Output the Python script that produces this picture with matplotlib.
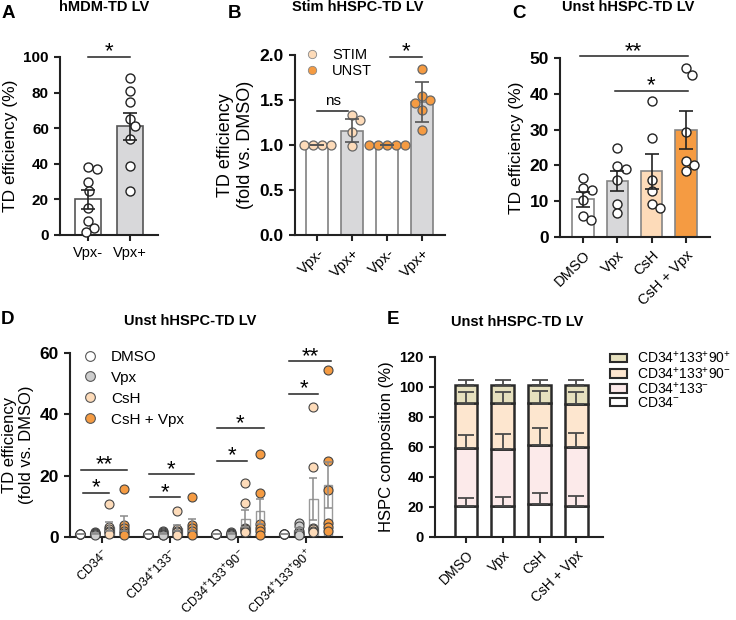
import numpy as np
import matplotlib
matplotlib.use('Agg')
import matplotlib.pyplot as plt
from matplotlib.lines import Line2D
from matplotlib.patches import Patch

plt.rcParams['font.family'] = ['Liberation Sans', 'DejaVu Sans']
plt.rcParams['mathtext.fontset'] = 'custom'
plt.rcParams['mathtext.rm'] = 'Liberation Sans'
plt.rcParams['mathtext.it'] = 'Liberation Sans:italic'
plt.rcParams['mathtext.bf'] = 'Liberation Sans:bold'
plt.rcParams['mathtext.sf'] = 'Liberation Sans'

# colours
WHITE = '#FFFFFF'
GRAY = '#D8D8DA'
PEACH = '#FDDBB9'
ORANGE = '#F59B42'
KHAKI = '#E6E0BE'
LIGHT_PEACH = '#FDE6CF'
PINK = '#FCEAEA'

# ---- panel A data ----
a_labels = ['Vpx-', 'Vpx+']
a_mean = [20.0, 61.0]
a_sem = [5.2, 7.6]
a_vpx_neg = [38, 37, 30, 25, 15, 8, 4, 1.5]
a_vpx_pos = [88, 81, 75, 65, 61, 54, 39, 25]

# ---- panel B data ----
b_labels = ['Vpx-', 'Vpx+', 'Vpx-', 'Vpx+']
b_mean = [1.0, 1.16, 1.0, 1.48]
b_err = [0.0, 0.13, 0.0, 0.22]
b_stim_neg = [1.0, 1.0, 1.0, 1.0]
b_stim_pos = [1.33, 1.28, 1.15, 0.99]
b_unst_neg = [1.0, 1.0, 1.0, 1.0, 1.0]
b_unst_pos = [1.84, 1.54, 1.50, 1.47, 1.39, 1.17]

# ---- panel C data ----
c_labels = ['DMSO', 'Vpx', 'CsH', 'CsH + Vpx']
c_mean = [10.5, 15.7, 18.3, 30.0]
c_sem = [2.0, 2.8, 4.9, 5.3]
c_dmso = [16.5, 13.7, 13.2, 10.4, 6.0, 4.8]
c_vpx = [25.0, 19.9, 19.1, 16.0, 9.3, 6.7]
c_csh = [37.9, 27.6, 16.0, 12.8, 9.3, 8.1]
c_cshvpx = [47.2, 45.3, 29.2, 21.1, 20.0, 18.3]

# ---- panel D data ----
d_groups = ['CD34$^{-}$', 'CD34$^{+}$133$^{-}$',
            'CD34$^{+}$133$^{+}$90$^{-}$', 'CD34$^{+}$133$^{+}$90$^{+}$']
d_conditions = ['DMSO', 'Vpx', 'CsH', 'CsH + Vpx']
d_dmso_pts = [[1, 1, 1, 1, 1, 1]] * 4
d_vpx_pts = [[1.7, 1.4, 1.2, 1.0, 0.9, 0.7],
             [1.8, 1.5, 1.2, 1.0, 0.8, 0.6],
             [1.5, 1.3, 1.1, 1.0, 0.9, 0.7],
             [4.6, 3.5, 2.0, 1.3, 1.0, 0.8]]
d_csh_pts = [[10.8, 3.2, 2.6, 2.0, 1.5, 1.0],
             [8.5, 2.5, 2.0, 1.5, 1.0, 0.8],
             [17.7, 11.1, 3.0, 2.5, 2.0, 1.5],
             [42.3, 22.9, 3.0, 2.5, 2.0, 1.5]]
d_cshvpx_pts = [[15.8, 3.8, 3.0, 1.8, 1.2, 0.8],
                [12.9, 4.0, 3.0, 2.0, 1.0, 0.5],
                [27.2, 14.3, 4.1, 3.0, 2.0, 0.5],
                [54.3, 24.8, 15.4, 4.6, 3.2, 2.0]]
d_mean_dmso = [1.0, 1.0, 1.0, 1.0]
d_mean_vpx = [1.2, 1.2, 1.1, 2.4]
d_mean_csh = [3.3, 2.9, 6.0, 12.3]
d_mean_cshvpx = [4.4, 4.0, 8.4, 16.9]
d_sem_dmso = [0, 0, 0, 0]
d_sem_vpx = [0.2, 0.2, 0.1, 0.6]
d_sem_csh = [1.5, 1.1, 2.9, 6.8]
d_sem_cshvpx = [2.4, 1.9, 4.1, 7.6]
# significance brackets: (x from, x to, y, text) in group units
d_sig = [(-0.28, 0.10, 14.5, '*'), (-0.31, 0.37, 22.0, '**'),
         (0.71, 1.15, 13.0, '*'), (0.69, 1.35, 20.5, '*'),
         (1.69, 2.13, 24.8, '*'), (1.69, 2.38, 35.4, '*'),
         (2.75, 3.18, 46.7, '*'), (2.75, 3.37, 57.3, '**')]

# ---- panel E data ----
e_labels = ['DMSO', 'Vpx', 'CsH', 'CsH + Vpx']
e_cd34neg = [20.4, 21.0, 21.7, 21.0]
e_133neg = [38.7, 37.7, 39.6, 39.2]
e_90neg = [29.9, 30.3, 27.7, 28.4]
e_90pos = [12.2, 12.2, 12.2, 12.6]
e_err_cd34neg = [5.3, 6.0, 7.5, 6.5]
e_err_133neg = [8.6, 10.3, 11.1, 9.3]
e_err_90neg = [7.7, 7.7, 8.4, 8.1]
e_err_90pos = [3.3, 3.3, 3.3, 3.3]
e_legend = ['CD34$^{+}$133$^{+}$90$^{+}$', 'CD34$^{+}$133$^{+}$90$^{-}$',
            'CD34$^{+}$133$^{-}$', 'CD34$^{-}$']

W, H = 736, 620
fig = plt.figure(figsize=(W / 100, H / 100), dpi=100)


def px_axes(left, top, right, bottom):
    return fig.add_axes([left / W, 1 - bottom / H, (right - left) / W, (bottom - top) / H])


def style(ax, ysize=11, xsize=10):
    for s in ['top', 'right']:
        ax.spines[s].set_visible(False)
    for s in ['left', 'bottom']:
        ax.spines[s].set_linewidth(1.5)
        ax.spines[s].set_color('#222')
    ax.tick_params(width=1.5, length=4.5, color='#222')
    ax.tick_params(axis='x', labelsize=xsize)
    ax.tick_params(axis='y', labelsize=ysize)
    for lab in ax.get_yticklabels():
        lab.set_fontweight('bold')


def swarm(ax, x0, vals, diam=9.0, max_off=None):
    # simple beeswarm in pixel space
    tr = ax.transData
    pix = tr.transform(np.column_stack([np.full(len(vals), float(x0)), np.asarray(vals, float)]))
    cx = pix[0, 0]
    placed = []
    xs = []
    for y in pix[:, 1]:
        cands = [0.0]
        for p, q in placed:
            dy = y - q
            if abs(dy) < diam:
                dx = np.sqrt(diam ** 2 - dy ** 2)
                cands += [p + dx, p - dx]
        cands.sort(key=abs)
        best = None
        for c in cands:
            if max_off is not None and abs(c) > max_off + 1e-9:
                continue
            if all((c - p) ** 2 + (y - q) ** 2 >= diam ** 2 - 1e-6 for p, q in placed):
                best = c
                break
        if best is None:
            best = 0.0
        placed.append((best, y))
        xs.append(cx + best)
    xs = np.array(xs)
    # a flat row gets centred on the bar
    if np.ptp(pix[:, 1]) < 1e-6:
        xs = xs - (xs.mean() - cx)
    back = tr.inverted().transform(np.column_stack([xs, pix[:, 1]]))
    return back[:, 0]


def sig(ax, x1, x2, y, text, fs=16, dy=-4):
    ax.plot([x1, x2], [y, y], color='#222', lw=1.1, clip_on=False)
    ax.annotate(text, xy=((x1 + x2) / 2, y), xytext=(0, dy), textcoords='offset points',
                ha='center', va='bottom', fontsize=fs, annotation_clip=False)


def ftext(x, y, s, **kw):
    fig.text(x / W, 1 - y / H, s, **kw)


# ================= A =================
ax = px_axes(60, 57, 158, 235)
ax.set_xlim(-0.67, 1.67)
ax.set_ylim(0, 100)
xa = np.arange(2)
ax.bar(xa, a_mean, width=0.64, color=[WHITE, GRAY], edgecolor='#555', lw=1.2, zorder=2)
for i, pts in enumerate([a_vpx_neg, a_vpx_pos]):
    ax.scatter(swarm(ax, i, pts), pts, s=42, facecolor='white', edgecolor='#222', lw=1.0,
               zorder=3, clip_on=False)
ax.errorbar(xa, a_mean, yerr=a_sem, fmt='none', ecolor='#222', capsize=5, elinewidth=1.2,
            capthick=1.2, zorder=4)
ax.set_xticks(xa)
ax.set_xticklabels(a_labels)
ax.set_yticks(np.arange(0, 101, 20))
ax.set_ylabel('TD efficiency (%)', fontsize=12.5)
style(ax, ysize=11, xsize=10.5)
sig(ax, 0, 1, 100, '*')

# ================= B =================
ax = px_axes(295, 55, 445, 235)
ax.set_xlim(-0.63, 3.66)
ax.set_ylim(0, 2.0)
xb = np.arange(4)
ax.bar(xb, b_mean, width=0.63, color=[WHITE, GRAY, WHITE, GRAY], edgecolor='#808080',
       lw=1.2, zorder=2)
b_sets = [b_stim_neg, b_stim_pos, b_unst_neg, b_unst_pos]
b_cols = [PEACH, PEACH, ORANGE, ORANGE]
for i, pts in enumerate(b_sets):
    ax.scatter(swarm(ax, i, pts), pts, s=42, facecolor=b_cols[i], edgecolor='#666', lw=0.9,
               zorder=3, clip_on=False)
ax.errorbar(xb, b_mean, yerr=b_err, fmt='none', ecolor='#555', capsize=5, elinewidth=1.2,
            capthick=1.2, zorder=4)
ax.set_xticks(xb)
ax.set_xticklabels(b_labels, rotation=45, ha='right', rotation_mode='anchor')
ax.set_yticks(np.arange(0, 2.01, 0.5))
ax.set_yticklabels(['0.0', '0.5', '1.0', '1.5', '2.0'])
ax.set_ylabel('TD efficiency\n(fold vs. DMSO)', fontsize=13)
style(ax, ysize=12.5, xsize=10.5)
sig(ax, 0.0, 0.9, 1.38, 'ns', fs=11, dy=2)
sig(ax, 2.1, 3.0, 1.98, '*')
hb = [Line2D([], [], marker='o', ls='none', markersize=6, mfc=c, mec='#888', mew=0.6)
      for c in [PEACH, ORANGE]]
ax.legend(hb, ['STIM', 'UNST'], loc='upper left', bbox_to_anchor=(0.027, 1.07), frameon=False,
          fontsize=10.5, labelspacing=0.1, handlelength=1.0, handletextpad=0.87,
          borderaxespad=0)

# ================= C =================
ax = px_axes(560, 58, 710, 237)
ax.set_xlim(-0.67, 3.7)
ax.set_ylim(0, 50)
xc = np.arange(4)
ax.bar(xc, c_mean, width=0.63, color=[WHITE, GRAY, PEACH, ORANGE], edgecolor='#858585',
       lw=1.2, zorder=2)
for i, pts in enumerate([c_dmso, c_vpx, c_csh, c_cshvpx]):
    ax.scatter(swarm(ax, i, pts), pts, s=42, facecolor='white', edgecolor='#222', lw=1.0,
               zorder=3, clip_on=False)
ax.errorbar(xc, c_mean, yerr=c_sem, fmt='none', ecolor='#222', capsize=5, elinewidth=1.2,
            capthick=1.2, zorder=4)
ax.set_xticks(xc)
ax.set_xticklabels(c_labels, rotation=45, ha='right', rotation_mode='anchor')
ax.set_yticks(np.arange(0, 51, 10))
ax.set_ylabel('TD efficiency (%)', fontsize=12.5)
style(ax, ysize=12.5, xsize=10.5)
sig(ax, -0.1, 3.05, 50.5, '**')
sig(ax, 0.93, 3.05, 40.8, '*')

# ================= D =================
ax = px_axes(70, 353, 342, 537)
ax.set_xlim(-0.47, 3.53)
ax.set_ylim(0, 60)
xg = np.arange(4)
offs = [-0.325, -0.108, 0.108, 0.325]
d_pts = [d_dmso_pts, d_vpx_pts, d_csh_pts, d_cshvpx_pts]
d_means = [d_mean_dmso, d_mean_vpx, d_mean_csh, d_mean_cshvpx]
d_sems = [d_sem_dmso, d_sem_vpx, d_sem_csh, d_sem_cshvpx]
d_cols = [WHITE, '#CDCDCD', PEACH, ORANGE]
for k in range(4):
    xk = xg + offs[k]
    ax.bar(xk, d_means[k], width=0.13, color='white', edgecolor='#9A9A9A', lw=1.0, zorder=2)
    for g in range(4):
        pts = d_pts[k][g]
        ax.scatter(swarm(ax, xk[g], pts, diam=3, max_off=1.5), pts, s=42,
                   facecolor=d_cols[k], edgecolor='#444', lw=0.8, zorder=3, clip_on=False)
    ax.errorbar(xk, d_means[k], yerr=d_sems[k], fmt='none', ecolor='#8A8A8A', capsize=3,
                elinewidth=1.1, capthick=1.1, zorder=4)
for x1, x2, y, t in d_sig:
    sig(ax, x1, x2, y, t)
ax.set_xticks(xg)
ax.set_xticklabels(d_groups, rotation=45, ha='right', rotation_mode='anchor')
ax.set_yticks([0, 20, 40, 60])
ax.set_ylabel('TD efficiency\n(fold vs. DMSO)', fontsize=12)
style(ax, ysize=12.5, xsize=9)
ax.tick_params(axis='x', pad=2.5)
hd = [Line2D([], [], marker='o', ls='none', markersize=7, mfc=c, mec='#555', mew=0.8)
      for c in d_cols]
ax.legend(hd, d_conditions, loc='upper left', bbox_to_anchor=(0.024, 1.05), frameon=False,
          fontsize=11, labelspacing=0.45, handlelength=1.0, handletextpad=0.85,
          borderaxespad=0)

# ================= E =================
ax = px_axes(435, 357, 603, 537)
ax.set_xlim(-0.84, 3.72)
ax.set_ylim(0, 120)
xe = np.arange(4)
layers = [e_cd34neg, e_133neg, e_90neg, e_90pos]
errs = [e_err_cd34neg, e_err_133neg, e_err_90neg, e_err_90pos]
e_cols = [WHITE, PINK, LIGHT_PEACH, KHAKI]
bottom = np.zeros(4)
for vals, er, col in zip(layers, errs, e_cols):
    vals = np.asarray(vals)
    ax.bar(xe, vals, bottom=bottom, width=0.62, color=col, edgecolor='#2a2a2a', lw=1.8,
           zorder=2)
    top = bottom + vals
    ax.errorbar(xe, top, yerr=[np.zeros(4), er], fmt='none', ecolor='#4a4a4a', capsize=6,
                elinewidth=1.3, capthick=1.3, zorder=3)
    bottom = top
ax.set_xticks(xe)
ax.set_xticklabels(e_labels, rotation=45, ha='right', rotation_mode='anchor')
ax.set_yticks(np.arange(0, 121, 20))
ax.set_ylabel('HSPC composition (%)', fontsize=12)
style(ax, ysize=10.5, xsize=10)
he = [Patch(facecolor=c, edgecolor='#2a2a2a', lw=1.5) for c in e_cols[::-1]]
ax.legend(he, e_legend, loc='upper left', bbox_to_anchor=(1.008, 1.07), frameon=False,
          fontsize=10, handlelength=1.2, handleheight=0.6, labelspacing=-0.05,
          handletextpad=0.74, borderaxespad=0)

# ---- titles and panel letters ----
title_kw = dict(ha='center', va='center', fontsize=10.5, fontweight='bold')
ftext(104, 7, 'hMDM-TD LV', **title_kw)
ftext(358, 7, 'Stim hHSPC-TD LV', **title_kw)
ftext(628, 7, 'Unst hHSPC-TD LV', **title_kw)
ftext(190, 321, 'Unst hHSPC-TD LV', **title_kw)
ftext(517, 322, 'Unst hHSPC-TD LV', **title_kw)
letter_kw = dict(ha='left', va='center', fontsize=13.5, fontweight='bold')
ftext(2, 14, 'A', **letter_kw)
ftext(228, 14, 'B', **letter_kw)
ftext(512, 14, 'C', **letter_kw)
ftext(1, 319, 'D', **letter_kw)
ftext(387, 319, 'E', **letter_kw)

fig.savefig('out.png', dpi=100)
